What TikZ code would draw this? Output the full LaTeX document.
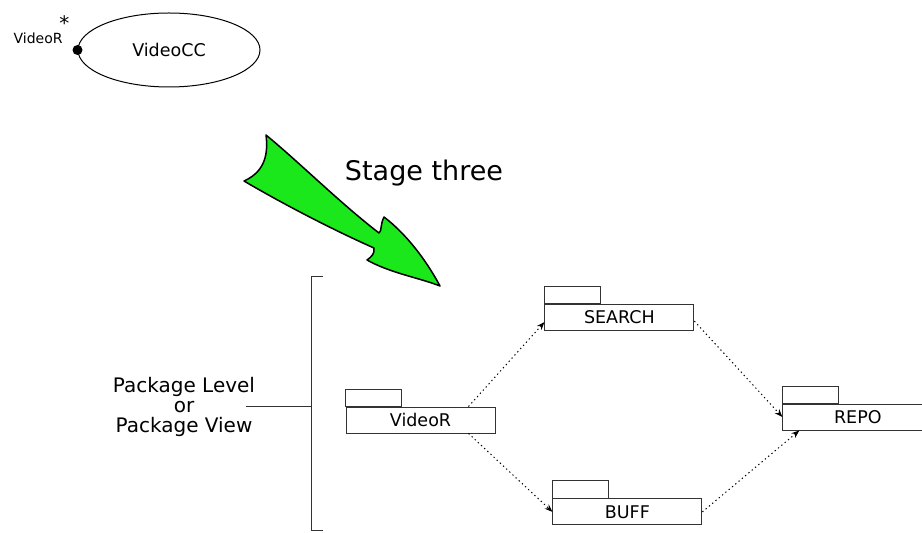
\documentclass[tikz,border=0pt]{standalone}
\usepackage{fontspec}
\setmainfont{DejaVu Sans}
\usetikzlibrary{positioning, arrows.meta, shapes.geometric, calc}
\definecolor{stgreen}{HTML}{1AE81A}
\definecolor{stline}{HTML}{333333}

\begin{document}
\begin{tikzpicture}[
  x=1pt, y=1pt,
  pkgbody/.style={
    rectangle, draw=stline, line width=0.9pt, fill=white,
    minimum width=149pt, minimum height=26pt, inner sep=0pt,
    font=\fontsize{17.5}{20}\selectfont
  },
  pkgtab/.style={draw=stline, line width=0.9pt},
  depend/.style={-{Stealth[length=8pt, width=6pt]}, dash pattern=on 1.3pt off 3pt, line width=1pt},
]
\useasboundingbox (0,0) rectangle (922,533);

% Composant
\node[ellipse, draw, line width=1pt, minimum width=182pt, minimum height=74pt,
  font=\fontsize{17.5}{20}\selectfont] (videocc) at (169,483) {VideoCC};
\node[circle, fill, inner sep=0pt, minimum size=10pt] (port) at (videocc.west) {};
\node[inner sep=0pt, font=\fontsize{14}{16}\selectfont, above left=2pt and 11pt of port] (portname) {VideoR};
\node[inner sep=0pt, font=\fontsize{20}{20}\selectfont] (mult) at ([shift={(-13,27)}]port.center) {*};

% Fleche
\draw[fill=stgreen, line width=1.5pt, line join=round]
  (266,398) .. controls (269,375) and (262,360) .. (244,352)
  .. controls (290,325) and (340,300) .. (374,285)
  .. controls (375,279) and (371,276) .. (367,273)
  .. controls (390,260) and (420,255) .. (440,247)
  .. controls (425,275) and (405,300) .. (384,316)
  .. controls (380,308) and (382,302) .. (379,300)
  .. controls (340,330) and (300,370) .. (266,398) -- cycle;
\node[font=\fontsize{27}{30}\selectfont] (stage) at (424,360) {Stage three};

% Niveau
\node[align=center, font=\fontsize{20}{20}\selectfont, inner sep=0pt] (level) at (184,126) {Package Level\\or\\Package View};
\coordinate (brktop) at (311,256);
\coordinate (brkbot) at (311,2);
\draw[stline, line width=1pt] ([xshift=12pt]brktop) -- (brktop) -- (brkbot) -- ([xshift=12pt]brkbot);
\draw[stline, line width=1pt] ([xshift=62pt]level.center) -- (level.center -| brktop);

% Paquetages
\node[pkgbody] (videor) at (420.5,113) {VideoR};
\node[pkgbody, above right=76pt and 49pt of videor] (search) {SEARCH};
\node[pkgbody, below right=65pt and 57pt of videor] (buff) {BUFF};
\node[pkgbody, minimum width=150pt, below right=73pt and 88pt of search] (repo) {REPO};
\foreach \p in {videor, search, buff, repo}
  \draw[pkgtab] (\p.north west) rectangle ++(56,17.5);

% Dependances
\draw[depend] ([xshift=48pt]videor.north) -- ([yshift=-5pt]search.west);
\draw[depend] ([xshift=48pt]videor.south) -- (buff.west);
\draw[depend] ([yshift=-4pt]search.east) -- (repo.west);
\draw[depend] (buff.east) -- ([xshift=17pt]repo.south west);

\end{tikzpicture}
\end{document}
